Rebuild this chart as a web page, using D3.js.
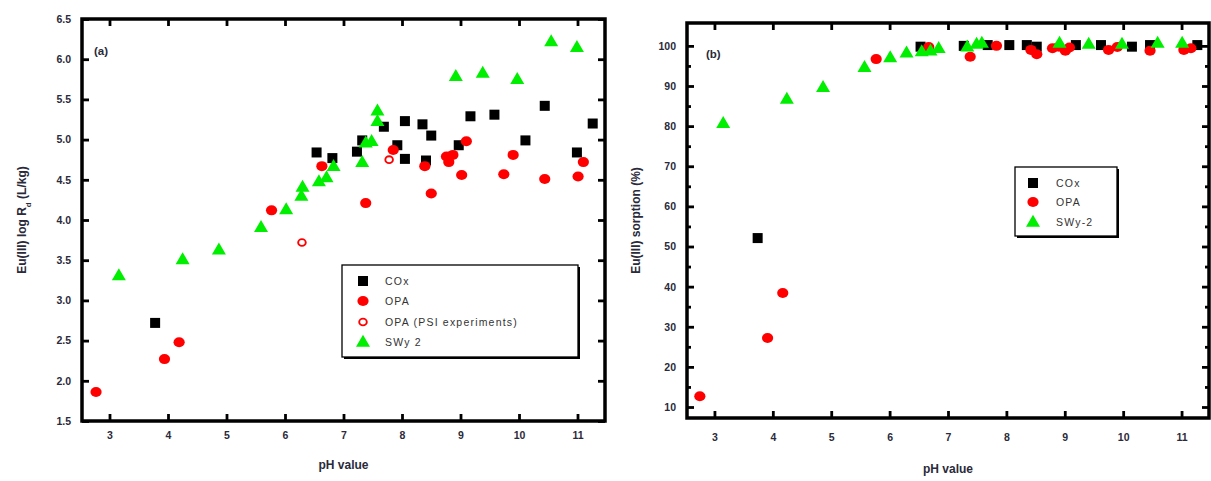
<!DOCTYPE html>
<html>
<head>
<meta charset="utf-8">
<script src="https://cdn.jsdelivr.net/npm/d3@7"></script>
<style>
  html, body { margin: 0; padding: 0; background: #fff; }
  svg { display: block; font-family: "Liberation Sans", Arial, sans-serif; }
</style>
</head>
<body>
<svg id="chart" width="1211" height="481"></svg>
<script>
// ---------- data ----------
const phTicks = [3, 4, 5, 6, 7, 8, 9, 10, 11];
const logRdTicks = [1.5, 2.0, 2.5, 3.0, 3.5, 4.0, 4.5, 5.0, 5.5, 6.0, 6.5];
const sorptionTicks = [10, 20, 30, 40, 50, 60, 70, 80, 90, 100];
const sorptionMinorTicks = [15, 25, 35, 45, 55, 65, 75, 85, 95];

// panel (a): Eu(III) log Rd
const aCOxPH = [3.78, 6.54, 6.81, 7.23, 7.32, 7.69, 7.92, 8.05, 8.05, 8.35, 8.50, 8.41, 8.97, 9.17, 9.58, 10.11, 10.44, 10.99, 11.26];
const aCOxRd = [2.72, 4.84, 4.77, 4.85, 4.99, 5.16, 4.93, 5.23, 4.76, 5.19, 5.05, 4.74, 4.93, 5.29, 5.31, 4.99, 5.42, 4.84, 5.20];
const aOPAPH = [2.77, 3.94, 4.19, 5.77, 6.63, 7.38, 7.85, 8.39, 8.50, 8.76, 8.80, 8.87, 9.02, 9.10, 9.74, 9.90, 10.44, 11.01, 11.10];
const aOPARd = [1.86, 2.27, 2.48, 4.12, 4.67, 4.21, 4.87, 4.67, 4.33, 4.79, 4.72, 4.81, 4.56, 4.98, 4.57, 4.81, 4.51, 4.54, 4.72];
const aPSIPH = [6.29, 7.78];
const aPSIRd = [3.72, 4.75];
const aSWyPH = [3.16, 4.25, 4.87, 5.59, 6.02, 6.28, 6.30, 6.58, 6.71, 6.83, 7.32, 7.38, 7.48, 7.58, 7.58, 8.92, 9.38, 9.97, 10.55, 10.99];
const aSWyRd = [3.31, 3.51, 3.63, 3.91, 4.13, 4.30, 4.41, 4.48, 4.53, 4.67, 4.72, 4.96, 4.98, 5.23, 5.36, 5.79, 5.83, 5.75, 6.22, 6.15];

// panel (b): Eu(III) sorption (%)
const bCOxPH = [3.74, 6.53, 7.27, 7.68, 8.05, 8.35, 8.52, 9.19, 9.62, 10.15, 10.46, 11.27];
const bCOxS  = [52.1, 99.8, 100.0, 100.2, 100.2, 100.2, 99.8, 100.2, 100.2, 99.8, 100.2, 100.2];
const bOPAPH = [2.75, 3.91, 4.17, 5.77, 6.67, 7.38, 7.83, 8.42, 8.52, 8.79, 8.90, 9.01, 9.08, 9.75, 9.90, 10.46, 11.04, 11.16];
const bOPAS  = [12.7, 27.2, 38.4, 96.7, 99.7, 97.3, 100.0, 99.0, 97.9, 99.4, 99.8, 98.8, 99.6, 99.0, 99.7, 98.8, 99.0, 99.4];
const bSWyPH = [3.15, 4.24, 4.86, 5.57, 6.01, 6.29, 6.55, 6.70, 6.84, 7.33, 7.49, 7.58, 8.91, 9.41, 9.98, 10.59, 11.01];
const bSWyS  = [80.7, 86.8, 89.7, 94.7, 97.1, 98.3, 98.6, 98.8, 99.4, 99.8, 100.5, 100.7, 100.7, 100.5, 100.5, 100.7, 100.7];

const legendA = ["COx", "OPA", "OPA (PSI experiments)", "SWy 2"];
const legendB = ["COx", "OPA", "SWy-2"];

// ---------- drawing ----------
const svg = d3.select("#chart");
const BLACK = "#000", RED = "#ff0000", GREEN = "#00ee00";
const zip = (a, b) => a.map((v, i) => [v, b[i]]);

function drawMarker(g, type, x, y) {
  if (type === "square") {
    g.append("rect").attr("x", x - 5).attr("y", y - 5).attr("width", 10).attr("height", 10).attr("fill", BLACK);
  } else if (type === "circle") {
    g.append("ellipse").attr("cx", x).attr("cy", y).attr("rx", 5.6).attr("ry", 5).attr("fill", RED);
  } else if (type === "open") {
    g.append("ellipse").attr("cx", x).attr("cy", y).attr("rx", 3.8).attr("ry", 3.4)
      .attr("fill", "none").attr("stroke", RED).attr("stroke-width", 1.9);
  } else if (type === "triangle") {
    const s = 14, h = 12;
    g.append("path").attr("d", `M${x},${y - h * 0.6}L${x + s / 2},${y + h * 0.4}L${x - s / 2},${y + h * 0.4}Z`).attr("fill", GREEN);
  }
}

function panel(opts) {
  const { x0, x1, y0, y1, yDomain, yTicks, yMinor, yFmt, yTitle, yTitleX, letter, letterX, letterY, series, xTitleY, xLabelPad } = opts;
  const g = svg.append("g");
  const x = d3.scaleLinear().domain([2.53, 11.47]).range([x0, x1]);
  const y = d3.scaleLinear().domain(yDomain).range([y1, y0]);

  const clipId = "clip" + letter;
  svg.append("clipPath").attr("id", clipId).append("rect")
    .attr("x", x0).attr("y", y0).attr("width", x1 - x0).attr("height", y1 - y0);

  const styleAxis = (sel) => {
    sel.select(".domain").remove();
    sel.selectAll(".tick line").attr("stroke", BLACK).attr("stroke-width", 2.8);
    sel.selectAll(".tick text").attr("fill", "#2a2a3a").attr("font-size", 10.5).attr("font-weight", "bold");
  };

  g.append("g").attr("transform", `translate(0,${y1})`)
    .call(d3.axisBottom(x).tickValues(phTicks).tickFormat(d3.format("d")).tickSizeInner(-7).tickSizeOuter(0).tickPadding(xLabelPad))
    .call(styleAxis);
  g.append("g").attr("transform", `translate(0,${y0})`)
    .call(d3.axisTop(x).tickValues(phTicks).tickFormat("").tickSizeInner(-7).tickSizeOuter(0))
    .call(styleAxis);
  g.append("g").attr("transform", `translate(${x0},0)`)
    .call(d3.axisLeft(y).tickValues(yTicks).tickFormat(yFmt).tickSizeInner(-7).tickSizeOuter(0).tickPadding(11))
    .call(styleAxis);
  g.append("g").attr("transform", `translate(${x1},0)`)
    .call(d3.axisRight(y).tickValues(yTicks).tickFormat("").tickSizeInner(-7).tickSizeOuter(0))
    .call(styleAxis);
  if (yMinor) {
    g.append("g").attr("transform", `translate(${x0},0)`)
      .call(d3.axisLeft(y).tickValues(yMinor).tickFormat("").tickSizeInner(-4).tickSizeOuter(0))
      .call(styleAxis);
    g.append("g").attr("transform", `translate(${x1},0)`)
      .call(d3.axisRight(y).tickValues(yMinor).tickFormat("").tickSizeInner(-4).tickSizeOuter(0))
      .call(styleAxis);
  }

  g.append("rect").attr("x", x0).attr("y", y0).attr("width", x1 - x0).attr("height", y1 - y0)
    .attr("fill", "none").attr("stroke", BLACK).attr("stroke-width", 3.5);

  const pg = g.append("g").attr("clip-path", `url(#${clipId})`);
  series.forEach(s => {
    zip(s.px, s.py).forEach(([a, b]) => drawMarker(pg, s.type, x(a), y(b)));
  });

  g.append("text").attr("x", (x0 + x1) / 2).attr("y", xTitleY).attr("text-anchor", "middle")
    .attr("font-size", 12).attr("font-weight", "bold").attr("fill", "#2a2a3a").text("pH value");
  const yc = (y0 + y1) / 2;
  g.append("text").attr("transform", `translate(${yTitleX},${yc}) rotate(-90)`).attr("text-anchor", "middle")
    .attr("font-size", 12).attr("font-weight", "bold").attr("fill", "#2a2a3a").html(yTitle);
  g.append("text").attr("x", letterX).attr("y", letterY).attr("font-size", 11.5).attr("font-weight", "bold")
    .attr("fill", "#2a2a3a").text(`(${letter})`);
  return g;
}

panel({
  x0: 82, x1: 605, y0: 19, y1: 421, yDomain: [1.5, 6.5], yTicks: logRdTicks, yMinor: null,
  yFmt: d3.format(".1f"), yTitleX: 26, letter: "a", letterX: 94, letterY: 55, xTitleY: 469, xLabelPad: 11,
  yTitle: 'Eu(III) log R<tspan baseline-shift="sub" font-size="8">d</tspan> (L/kg)',
  series: [
    { type: "square", px: aCOxPH, py: aCOxRd },
    { type: "circle", px: aOPAPH, py: aOPARd },
    { type: "open", px: aPSIPH, py: aPSIRd },
    { type: "triangle", px: aSWyPH, py: aSWyRd }
  ]
});

panel({
  x0: 687, x1: 1209, y0: 23, y1: 418, yDomain: [7.26, 105.7], yTicks: sorptionTicks, yMinor: sorptionMinorTicks,
  yFmt: d3.format("d"), yTitleX: 640, letter: "b", letterX: 706, letterY: 58, xTitleY: 473, xLabelPad: 16,
  yTitle: "Eu(III) sorption (%)",
  series: [
    { type: "square", px: bCOxPH, py: bCOxS },
    { type: "circle", px: bOPAPH, py: bOPAS },
    { type: "triangle", px: bSWyPH, py: bSWyS }
  ]
});

function legend(bx, by, bw, bh, mx, tx, rows, labels, types) {
  const g = svg.append("g");
  g.append("rect").attr("x", bx + 2).attr("y", by + 2).attr("width", bw).attr("height", bh).attr("fill", BLACK);
  g.append("rect").attr("x", bx).attr("y", by).attr("width", bw).attr("height", bh)
    .attr("fill", "#fff").attr("stroke", BLACK).attr("stroke-width", 1.3);
  labels.forEach((lab, i) => {
    drawMarker(g, types[i], mx, rows[i]);
    g.append("text").attr("x", tx).attr("y", rows[i] + 4).attr("font-size", 10.5).attr("letter-spacing", 1.2)
      .attr("fill", "#333").text(lab);
  });
}
legend(342, 265, 236, 92, 363, 385, [281, 301, 322, 342], legendA, ["square", "circle", "open", "triangle"]);
legend(1015, 167, 102, 69, 1033, 1056, [183, 202, 222], legendB, ["square", "circle", "triangle"]);
</script>
</body>
</html>
